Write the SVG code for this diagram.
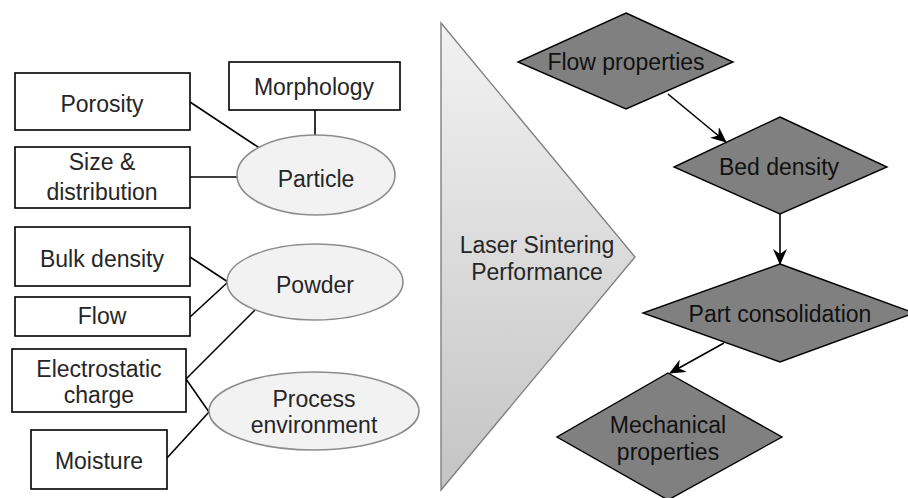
<svg xmlns="http://www.w3.org/2000/svg" width="908" height="498" viewBox="0 0 908 498">
<defs>
<linearGradient id="tri" x1="0" y1="0" x2="0" y2="1">
<stop offset="0" stop-color="#f2f2f2"/>
<stop offset="1" stop-color="#c4c4c4"/>
</linearGradient>
<marker id="arr" markerWidth="16" markerHeight="14" viewBox="0 0 16 14" refX="15" refY="7" orient="auto" markerUnits="userSpaceOnUse">
<path d="M0,0 L16,7 L0,14 L5,7 Z" fill="#000"/>
</marker>
</defs>
<style>
text{font-family:"Liberation Sans",Arial,sans-serif;font-size:23px;fill:#262626;text-anchor:middle}
.box{fill:#fff;stroke:#000;stroke-width:1.6}
.ell{fill:#f2f2f2;stroke:#8c8c8c;stroke-width:1.6}
.dia{fill:#808080;stroke:#000;stroke-width:1.4}
.dt{fill:#111}
.ln{stroke:#000;stroke-width:1.6;fill:none}
</style>
<rect width="908" height="498" fill="#fff"/>
<g id="connectors">
<line class="ln" x1="190" y1="102" x2="261" y2="149"/>
<line class="ln" x1="315" y1="110" x2="315" y2="137"/>
<line class="ln" x1="190" y1="177" x2="238" y2="177"/>
<line class="ln" x1="190" y1="257" x2="228" y2="282"/>
<line class="ln" x1="190" y1="317" x2="228" y2="282"/>
<line class="ln" x1="186" y1="379" x2="255" y2="310"/>
<line class="ln" x1="186" y1="379" x2="209" y2="412"/>
<line class="ln" x1="167" y1="458" x2="209" y2="412"/>
<line class="ln" x1="668" y1="94" x2="726" y2="142" marker-end="url(#arr)"/>
<line class="ln" x1="780" y1="214" x2="780" y2="264" marker-end="url(#arr)"/>
<line class="ln" x1="724" y1="343" x2="670" y2="373" marker-end="url(#arr)"/>
</g>
<g id="porosity"><rect class="box" x="15" y="73" width="175" height="57"/><text x="102" y="112">Porosity</text></g>
<g id="morphology"><rect class="box" x="229" y="62" width="171" height="48"/><text x="314" y="95">Morphology</text></g>
<g id="size"><rect class="box" x="15" y="147" width="175" height="61"/><text x="102" y="170">Size &amp;</text><text x="102" y="200">distribution</text></g>
<g id="particle"><ellipse class="ell" cx="316" cy="175" rx="79" ry="40"/><text x="316" y="187">Particle</text></g>
<g id="bulk"><rect class="box" x="15" y="227" width="175" height="59"/><text x="102" y="267">Bulk density</text></g>
<g id="flow"><rect class="box" x="15" y="297" width="175" height="39"/><text x="102" y="324">Flow</text></g>
<g id="electro"><rect class="box" x="12" y="349" width="174" height="63"/><text x="99" y="377">Electrostatic</text><text x="99" y="403">charge</text></g>
<g id="moisture"><rect class="box" x="31" y="430" width="136" height="59"/><text x="99" y="469">Moisture</text></g>
<g id="powder"><ellipse class="ell" cx="315" cy="282" rx="88" ry="38"/><text x="315" y="293">Powder</text></g>
<g id="process"><ellipse class="ell" cx="314" cy="411" rx="105" ry="39"/><text x="314" y="407">Process</text><text x="314" y="433">environment</text></g>
<g id="lsp"><path d="M441,23 L635,257 L441,490 Z" fill="url(#tri)" stroke="#808080" stroke-width="1.4"/><text x="537" y="253">Laser Sintering</text><text x="537" y="280">Performance</text></g>
<g id="flowprops"><path class="dia" d="M626,13 L733,62 L626,109 L518,62 Z"/><text class="dt" x="626" y="70">Flow properties</text></g>
<g id="beddensity"><path class="dia" d="M780,117 L887,167 L780,214 L674,167 Z"/><text class="dt" x="779" y="175">Bed density</text></g>
<g id="partcons"><path class="dia" d="M780,264 L914,313 L780,362 L643,313 Z"/><text class="dt" x="780" y="322">Part consolidation</text></g>
<g id="mech"><path class="dia" d="M668,373 L782,437 L668,500 L557,437 Z"/><text class="dt" x="668" y="433">Mechanical</text><text class="dt" x="668" y="460">properties</text></g>
</svg>
